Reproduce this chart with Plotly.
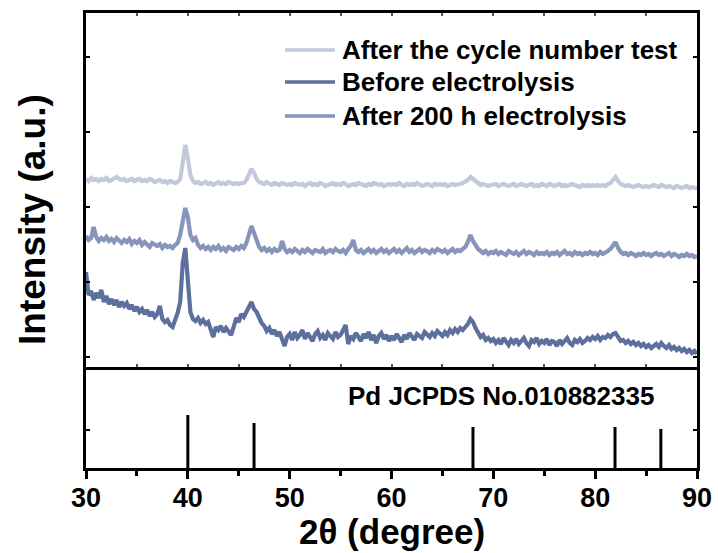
import numpy as np
import plotly.graph_objects as go

# 2-theta scan grid (degrees), 0.25 deg step
two_theta = np.round(np.arange(30.0, 90.001, 0.25), 2)

after_cycle = [
    178, 176, 179, 177, 178, 176, 178, 177, 179, 176, 177, 179, 180, 178, 177, 178, 176, 177, 178, 176,
    177, 178, 176, 177, 176, 178, 177, 175, 176, 177, 175, 176, 174, 176, 175, 174, 175, 178, 194, 212,
    199, 182, 176, 174, 175, 173, 174, 175, 173, 174, 172, 174, 175, 173, 174, 173, 175, 174, 173, 174,
    173, 174, 174, 177, 183, 188, 184, 178, 175, 174, 173, 175, 173, 172, 174, 173, 172, 174, 173, 172,
    173, 172, 174, 173, 172, 173, 171, 173, 174, 172, 173, 172, 174, 173, 171, 172, 173, 174, 172, 173,
    172, 174, 173, 171, 172, 173, 172, 174, 173, 172, 171, 173, 172, 174, 173, 172, 173, 171, 172, 173,
    172, 173, 172, 174, 172, 171, 173, 172, 173, 172, 174, 173, 171, 172, 173, 172, 171, 173, 172, 173,
    172, 173, 171, 172, 173, 172, 172, 173, 174, 175, 177, 180, 178, 175, 173, 172, 173, 172, 171, 172,
    172, 173, 171, 172, 173, 172, 171, 172, 173, 171, 172, 173, 172, 171, 172, 173, 171, 172, 171, 173,
    172, 171, 173, 172, 171, 172, 173, 171, 172, 171, 172, 173, 172, 171, 170, 172, 171, 172, 171, 172,
    171, 172, 171, 172, 171, 173, 174, 177, 180, 176, 173, 172, 171, 172, 171, 170, 171, 172, 171, 170,
    171, 170, 171, 172, 171, 170, 172, 171, 170, 171, 170, 169, 171, 170, 169, 170, 171, 169, 170, 169,
    169,
]

before_electrolysis = [
    85, 62, 66, 57, 64, 59, 67, 55, 61, 53, 58, 52, 57, 50, 55, 51, 54, 48, 52, 46,
    50, 45, 48, 43, 47, 41, 45, 40, 43, 51, 38, 35, 37, 32, 30, 36, 44, 55, 94, 109,
    82, 45, 38, 36, 39, 34, 37, 33, 35, 28, 20, 30, 27, 31, 25, 29, 26, 22, 30, 39,
    35, 43, 40, 46, 50, 55, 48, 45, 38, 34, 31, 26, 29, 23, 27, 21, 25, 18, 11, 20,
    23, 17, 25, 19, 22, 27, 18, 24, 20, 16, 23, 26, 19, 22, 17, 24, 21, 18, 25, 20,
    22, 28, 32, 13, 21, 18, 24, 20, 16, 23, 19, 25, 17, 22, 14, 21, 24, 18, 22, 16,
    21, 17, 23, 19, 15, 22, 18, 24, 20, 17, 23, 21, 19, 25, 22, 20, 24, 21, 26, 23,
    21, 25, 22, 27, 24, 28, 25, 29, 27, 30, 33, 38, 35, 29, 24, 20, 22, 17, 19, 16,
    18, 14, 17, 13, 19, 15, 12, 17, 14, 18, 13, 16, 19, 14, 11, 17, 15, 19, 13, 16,
    14, 18, 12, 16, 15, 11, 17, 13, 16, 19, 14, 12, 17, 15, 18, 14, 16, 19, 17, 20,
    18, 21, 17, 20, 19, 22, 20, 23, 24, 19, 16, 17, 14, 16, 13, 15, 12, 14, 11, 13,
    10, 12, 9, 11, 13, 10, 14, 11, 9, 12, 8, 10, 7, 9, 6, 8, 5, 7, 4, 6,
    3,
]

after_200h = [
    121, 117, 119, 130, 120, 116, 119, 117, 120, 116, 118, 115, 119, 116, 114, 117, 115, 118, 113, 116,
    114, 117, 112, 115, 113, 110, 114, 112, 111, 113, 109, 112, 110, 111, 109, 112, 114, 122, 138, 149,
    140, 122, 117, 119, 112, 109, 111, 108, 110, 107, 110, 108, 111, 107, 109, 106, 110, 108, 107, 110,
    108, 111, 109, 114, 122, 131, 124, 116, 110, 107, 109, 106, 108, 105, 108, 106, 107, 116, 108, 105,
    107, 105, 108, 106, 104, 107, 105, 108, 106, 104, 107, 106, 105, 108, 104, 106, 107, 105, 108, 106,
    105, 107, 104, 108, 111, 117, 107, 105, 107, 104, 106, 108, 105, 107, 104, 106, 108, 105, 107, 104,
    106, 108, 105, 107, 104, 106, 109, 105, 107, 104, 106, 108, 105, 107, 106, 104, 107, 105, 108, 106,
    105, 107, 104, 106, 108, 105, 107, 106, 108, 110, 115, 122, 116, 112, 108, 106, 104, 106, 103, 105,
    104, 106, 103, 105, 104, 102, 106, 104, 103, 105, 102, 104, 106, 103, 105, 104, 102, 105, 103, 104,
    103, 105, 102, 104, 103, 105, 102, 104, 106, 103, 104, 102, 105, 103, 104, 102, 104, 103, 105, 103,
    104, 102, 105, 103, 104, 106, 108, 112, 115, 109, 105, 103, 104, 102, 104, 103, 101, 103, 102, 104,
    102, 103, 101, 103, 104, 102, 103, 101, 102, 104, 101, 103, 102, 100, 102, 101, 103, 101, 102, 100,
    101,
]

# Pd reference pattern (JCPDS No. 010882335): positions and drawn stick heights
pd_positions = [40.0, 46.5, 68.0, 81.95, 86.45]
pd_heights = [53, 45, 41, 41, 39]

series_names = ["After the cycle number test", "Before electrolysis", "After 200 h electrolysis"]
series_values = [after_cycle, before_electrolysis, after_200h]
series_colors = ["#c2c9da", "#5d6f9d", "#8695b9"]

W, H = 718, 553
FONT = "Liberation Sans, Arial, sans-serif"

fig = go.Figure()

for name, vals, col in zip(series_names, series_values, series_colors):
    fig.add_trace(go.Scatter(
        x=two_theta, y=vals, mode="lines", name=name,
        line=dict(color=col, width=4.2),
        xaxis="x2", yaxis="y2", showlegend=False,
    ))

stick_x, stick_y = [], []
for p, h in zip(pd_positions, pd_heights):
    stick_x += [p, p, None]
    stick_y += [0, h, None]
fig.add_trace(go.Scatter(
    x=stick_x, y=stick_y, mode="lines",
    line=dict(color="black", width=3), showlegend=False,
    xaxis="x", yaxis="y",
))

# panel geometry in pixels
x_left, x_right = 86, 697
top_y0, split_y, bot_y1 = 13, 367, 468

def px_x(p):
    return p / W

def px_y(p):
    return (H - p) / H

xdom = [px_x(x_left), px_x(x_right)]
axis_font = dict(family=FONT, size=27, color="black")

fig.update_layout(
    width=W, height=H,
    margin=dict(l=0, r=0, t=0, b=0, autoexpand=False),
    paper_bgcolor="white", plot_bgcolor="white",
    showlegend=False,
    xaxis=dict(
        domain=xdom, range=[30, 90], anchor="y", automargin=False,
        tickvals=[30, 40, 50, 60, 70, 80, 90],
        ticktext=["<b>%d</b>" % v for v in [30, 40, 50, 60, 70, 80, 90]],
        ticks="outside", ticklen=8, tickwidth=2.5, tickcolor="black",
        ticklabelstandoff=-4,
        minor=dict(tickvals=[35, 45, 55, 65, 75, 85], ticks="outside", ticklen=5,
                   tickwidth=2.5, tickcolor="black"),
        showline=True, linewidth=3, linecolor="black", mirror=False,
        showgrid=False, zeroline=False, tickfont=axis_font,
    ),
    yaxis=dict(
        domain=[px_y(bot_y1), px_y(split_y)], range=[0, 101], anchor="x", automargin=False,
        tickvals=[38], ticks="inside", ticklen=4, tickwidth=2, tickcolor="black",
        showticklabels=False,
        showline=True, linewidth=3, linecolor="black", mirror="ticks",
        showgrid=False, zeroline=False,
    ),
    xaxis2=dict(
        domain=xdom, range=[30, 90], anchor="y2", matches="x", automargin=False,
        tickvals=list(range(30, 91, 5)), ticks="inside", ticklen=3, tickwidth=1.5,
        tickcolor="#555555", showticklabels=False,
        showline=True, linewidth=3, linecolor="black", mirror="ticks",
        showgrid=False, zeroline=False,
    ),
    yaxis2=dict(
        domain=[px_y(split_y), px_y(top_y0)], range=[-10, 344], anchor="x2", automargin=False,
        tickvals=[0, 75, 150, 225, 300], ticks="inside", ticklen=4, tickwidth=2,
        tickcolor="black", showticklabels=False,
        showline=True, linewidth=3, linecolor="black", mirror="ticks",
        showgrid=False, zeroline=False,
    ),
)

annotations = [
    dict(text="<b>2θ (degree)</b>", x=px_x((x_left + x_right) / 2), y=px_y(531),
         xref="paper", yref="paper", showarrow=False, xanchor="center", yanchor="middle",
         font=dict(family=FONT, size=35, color="black")),
    dict(text="<b>Intensity (a.u.)</b>", x=px_x(32), y=px_y(220), textangle=-90,
         xref="paper", yref="paper", showarrow=False, xanchor="center", yanchor="middle",
         font=dict(family=FONT, size=37, color="black")),
    dict(text="<b>Pd JCPDS No.010882335</b>", x=px_x(501), y=px_y(396),
         xref="paper", yref="paper", showarrow=False, xanchor="center", yanchor="middle",
         font=dict(family=FONT, size=26, color="black")),
]

# legend drawn as line samples with labels
legend_rows = [50, 82, 116]
shapes = []
for name, col, row in zip(series_names, series_colors, legend_rows):
    shapes.append(dict(type="line", xref="paper", yref="paper",
                       x0=px_x(285), x1=px_x(335), y0=px_y(row), y1=px_y(row),
                       line=dict(color=col, width=3.5)))
    annotations.append(dict(text="<b>%s</b>" % name, x=px_x(340), y=px_y(row),
                            xref="paper", yref="paper", showarrow=False,
                            xanchor="left", yanchor="middle",
                            font=dict(family=FONT, size=26, color="black")))

fig.update_layout(annotations=annotations, shapes=shapes)

fig.write_html("out.html")
